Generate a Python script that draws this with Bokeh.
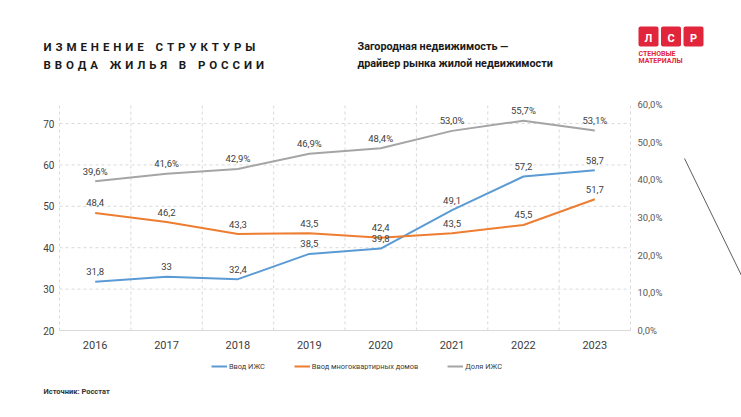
from bokeh.plotting import figure
from bokeh.models import (Range1d, LinearAxis, FixedTicker, ColumnDataSource, LabelSet,
                          Label, Legend, LegendItem, Arrow, BoxAnnotation)
from bokeh.core.properties import value
from bokeh.embed import file_html
from bokeh.resources import INLINE

# ---- data ----
years = [2016, 2017, 2018, 2019, 2020, 2021, 2022, 2023]
izhs = [31.8, 33.0, 32.4, 38.5, 39.8, 49.1, 57.2, 58.7]          # Ввод ИЖС
mkd = [48.4, 46.2, 43.3, 43.5, 42.4, 43.5, 45.5, 51.7]           # Ввод многоквартирных домов
share = [39.6, 41.6, 42.9, 46.9, 48.4, 53.0, 55.7, 53.1]         # Доля ИЖС, %
series_names = ["Ввод ИЖС", "Ввод многоквартирных домов", "Доля ИЖС"]
left_ticks = [20, 30, 40, 50, 60, 70]
right_ticks = [0, 10, 20, 30, 40, 50, 60]
right_tick_labels = ["0,0%", "10,0%", "20,0%", "30,0%", "40,0%", "50,0%", "60,0%"]

title_lines = ["ИЗМЕНЕНИЕ СТРУКТУРЫ", "ВВОДА ЖИЛЬЯ В РОССИИ"]
subtitle_lines = ["Загородная недвижимость —", "драйвер рынка жилой недвижимости"]
source_text = "Источник: Росстат"


def fmt_num(v):
    return ("%g" % v).replace(".", ",")


def fmt_pct(v):
    return ("%.1f%%" % v).replace(".", ",")


src = ColumnDataSource(dict(
    year=years, izhs=izhs, mkd=mkd, share=share,
    izhs_lab=[fmt_num(v) for v in izhs],
    mkd_lab=[fmt_num(v) for v in mkd],
    share_lab=[fmt_pct(v) for v in share],
))

BLUE, ORANGE, GRAY = "#5B9BD5", "#ED7D31", "#A5A5A5"
TXT = "#404040"
GRID = "#D9D9D9"
FONT = "Roboto"

# ---- layout: the frame is the whole canvas; the chart box sits inside it ----
W, H = 741, 417
CL, CR, CT, CB = 59, 630, 104, 330          # chart box in page pixels
X0, X1 = years[0] - 0.5, years[-1] + 0.5    # category edges
YL0, YL1 = 20, 74.6                          # left axis range inside the box
YP0, YP1 = 0, 60                             # right axis range inside the box

kx = (CR - CL) / (X1 - X0)
ky = (CB - CT) / (YL1 - YL0)
kp = (CB - CT) / (YP1 - YP0)
x_range = Range1d(X0 - CL / kx, X0 + (W - CL) / kx)
y_range = Range1d(YL0 - (H - CB) / ky, YL0 + CB / ky)
p_range = Range1d(YP0 - (H - CB) / kp, YP0 + CB / kp)

p = figure(width=W, height=H, min_border=0, x_range=x_range, y_range=y_range,
           output_backend="svg", toolbar_location=None,
           outline_line_color=None, background_fill_color="white", border_fill_color="white")
p.extra_y_ranges = {"pct": p_range}
p.grid.visible = False

# axes pinned to the chart box
p.xaxis.fixed_location = YL0
p.xaxis.bounds = (X0, X1)
p.xaxis.ticker = FixedTicker(ticks=years)
p.xaxis.axis_line_color = GRID
p.xaxis.major_tick_line_color = None
p.xaxis.minor_tick_line_color = None
p.xaxis.major_label_text_font_size = "11px"
p.xaxis.major_label_text_color = TXT
p.xaxis.major_label_text_font = FONT
p.xaxis.major_label_standoff = 4

p.yaxis.fixed_location = X0
p.yaxis.bounds = (YL0, YL1)
p.yaxis.ticker = FixedTicker(ticks=left_ticks)
p.yaxis.axis_line_color = None
p.yaxis.major_tick_line_color = None
p.yaxis.minor_tick_line_color = None
p.yaxis.major_label_text_font_size = "10px"
p.yaxis.major_label_text_color = TXT
p.yaxis.major_label_text_font = FONT
p.yaxis.major_label_standoff = -1

rax = LinearAxis(y_range_name="pct", ticker=FixedTicker(ticks=right_ticks),
                 major_label_overrides=dict(zip(right_ticks, right_tick_labels)),
                 fixed_location=X1, bounds=(YP0, YP1))
rax.axis_line_color = None
rax.major_tick_line_color = None
rax.minor_tick_line_color = None
rax.major_label_text_font_size = "9.5px"
rax.major_label_text_color = "#595959"
rax.major_label_text_font = FONT
rax.major_label_standoff = 1
p.add_layout(rax, "right")

# dashed grid inside the chart box
edges = [y - 0.5 for y in years] + [years[-1] + 0.5]
p.segment(x0=edges, y0=[YL0] * len(edges), x1=edges, y1=[YL1] * len(edges),
          line_color=GRID, line_dash="3 3", line_width=1)
hticks = left_ticks[1:]
p.segment(x0=[X0] * len(hticks), y0=hticks, x1=[X1] * len(hticks), y1=hticks,
          line_color=GRID, line_dash="3 3", line_width=1)

# lines
r1 = p.line("year", "izhs", source=src, line_color=BLUE, line_width=2)
r2 = p.line("year", "mkd", source=src, line_color=ORANGE, line_width=2)
r3 = p.line("year", "share", source=src, line_color=GRAY, line_width=2, y_range_name="pct")

for col, rn in (("izhs", "default"), ("mkd", "default"), ("share", "pct")):
    ls = LabelSet(x="year", y=col, text=col + "_lab", source=src, y_offset=10,
                  text_align="center", text_baseline="middle", text_font_size="9.5px",
                  text_color=TXT, text_font=value(FONT), y_range_name=rn)
    p.add_layout(ls)

# legend
legend = Legend(items=[LegendItem(label=series_names[0], renderers=[r1]),
                       LegendItem(label=series_names[1], renderers=[r2]),
                       LegendItem(label=series_names[2], renderers=[r3])],
                orientation="horizontal", location=(211, H - 371),
                glyph_width=16, glyph_height=10, label_height=10, label_standoff=2,
                spacing=29, padding=0, margin=0, border_line_color=None,
                background_fill_alpha=0, label_text_font_size="7.4px",
                label_text_color=TXT, label_text_font=FONT)
p.add_layout(legend)


def lab(text, X, Y, size, color=TXT, style="normal", font=FONT, align="left"):
    p.add_layout(Label(x=X, y=H - Y, x_units="screen", y_units="screen", text=text,
                       text_font_size=size, text_color=color, text_font_style=style,
                       text_font=font, text_align=align, text_baseline="middle"))


# titles (letter-spaced with three-per-em spaces, which SVG does not collapse)
SP = "\u2004"
for i, t in enumerate(title_lines):
    spaced = (SP * 3).join(SP.join(w) for w in t.split(" "))
    lab(spaced, 43, 46 + 18 * i, "11.5px", color="#1a1a1a", style="bold")
for i, t in enumerate(subtitle_lines):
    lab(t, 357, 46 + 17 * i, "10.8px", color="#1a1a1a", style="bold")

lab(source_text, 43, 391, "7.5px", color="#333333", style="bold")

# logo
RED = "#E1263C"
for i, ch in enumerate(["Л", "С", "Р"]):
    x0 = 638 + 22.5 * i
    p.add_layout(BoxAnnotation(left=x0, right=x0 + 20, top=H - 26, bottom=H - 46,
                               left_units="screen", right_units="screen",
                               top_units="screen", bottom_units="screen",
                               fill_color=RED, fill_alpha=1, line_color=None, border_radius=2))
    lab(ch, x0 + 10, 38, "11px", color="white", style="bold", align="center")
lab("СТЕНОВЫЕ", 638, 53, "7px", color=RED, style="bold")
lab("МАТЕРИАЛЫ", 638, 60, "7px", color=RED, style="bold")

# decorative diagonal line
p.add_layout(Arrow(end=None, x_start=684, y_start=H - 158, x_end=741, y_end=H - 275,
                   start_units="screen", end_units="screen", line_color="#333333", line_width=0.8))

open("out.html", "w").write(file_html(p, INLINE))
